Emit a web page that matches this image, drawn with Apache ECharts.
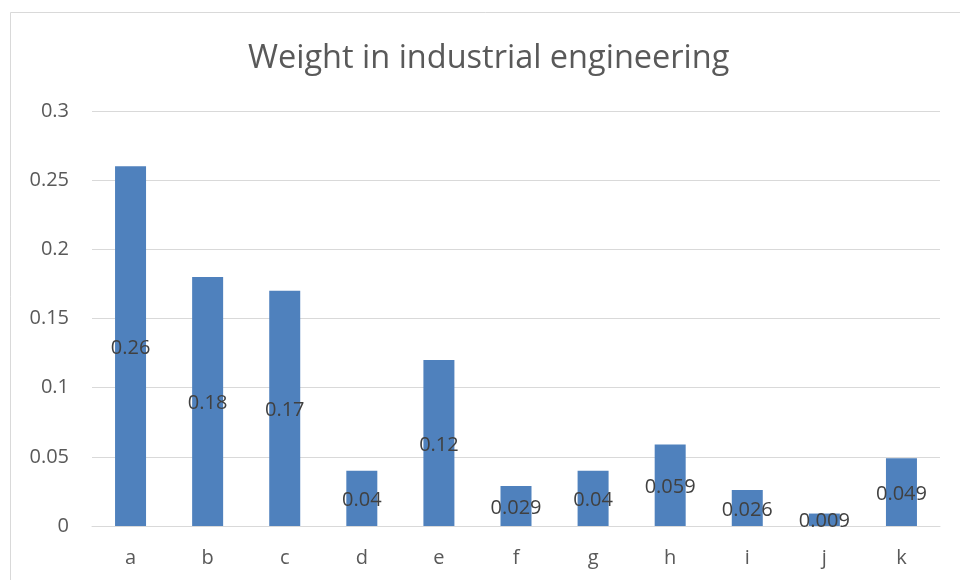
<!DOCTYPE html>
<html>
<head>
<meta charset="utf-8">
<script src="https://cdn.jsdelivr.net/npm/echarts@6/dist/echarts.min.js"></script>
<style>
  html, body { margin: 0; padding: 0; background: #fff; }
  #chart { width: 960px; height: 580px; }
</style>
</head>
<body>
<div id="chart"></div>
<script>
const categories = ['a', 'b', 'c', 'd', 'e', 'f', 'g', 'h', 'i', 'j', 'k'];
const weights = [0.26, 0.18, 0.17, 0.04, 0.12, 0.029, 0.04, 0.059, 0.026, 0.009, 0.049];
const titleText = 'Weight in industrial engineering';

const FONT = '"Open Sans", "Liberation Sans", sans-serif';
const chart = echarts.init(document.getElementById('chart'), null, { renderer: 'canvas' });

chart.setOption({
  backgroundColor: '#ffffff',
  animation: false,
  graphic: [{
    type: 'rect',
    shape: { x: 10.5, y: 12.5, width: 980, height: 600 },
    style: { fill: 'none', stroke: '#d9d9d9', lineWidth: 1 },
    silent: true
  }],
  title: {
    text: titleText,
    left: 243,
    top: 37,
    textStyle: { fontFamily: FONT, fontSize: 32.5, fontWeight: 'normal', color: '#595959' }
  },
  grid: { left: 92, right: 20, top: 111, bottom: 54, containLabel: false },
  xAxis: {
    type: 'category',
    data: categories,
    axisLine: { show: true, lineStyle: { color: '#d9d9d9', width: 1 } },
    axisTick: { show: false },
    axisLabel: { fontFamily: FONT, fontSize: 20, color: '#595959', margin: 22 }
  },
  yAxis: {
    type: 'value',
    min: 0,
    max: 0.3,
    interval: 0.05,
    axisLine: { show: false },
    axisTick: { show: false },
    axisLabel: {
      fontFamily: FONT, fontSize: 20, color: '#595959', margin: 23,
      formatter: v => String(parseFloat(v.toFixed(2)))
    },
    splitLine: { lineStyle: { color: '#d9d9d9', width: 1 } }
  },
  series: [{
    type: 'bar',
    data: weights,
    barWidth: 31,
    itemStyle: { color: '#4F81BD' },
    label: {
      show: true,
      position: 'inside',
      offset: [0, 2],
      fontFamily: FONT,
      fontSize: 20,
      color: '#404040',
      formatter: p => String(p.value)
    }
  }]
});
</script>
</body>
</html>
